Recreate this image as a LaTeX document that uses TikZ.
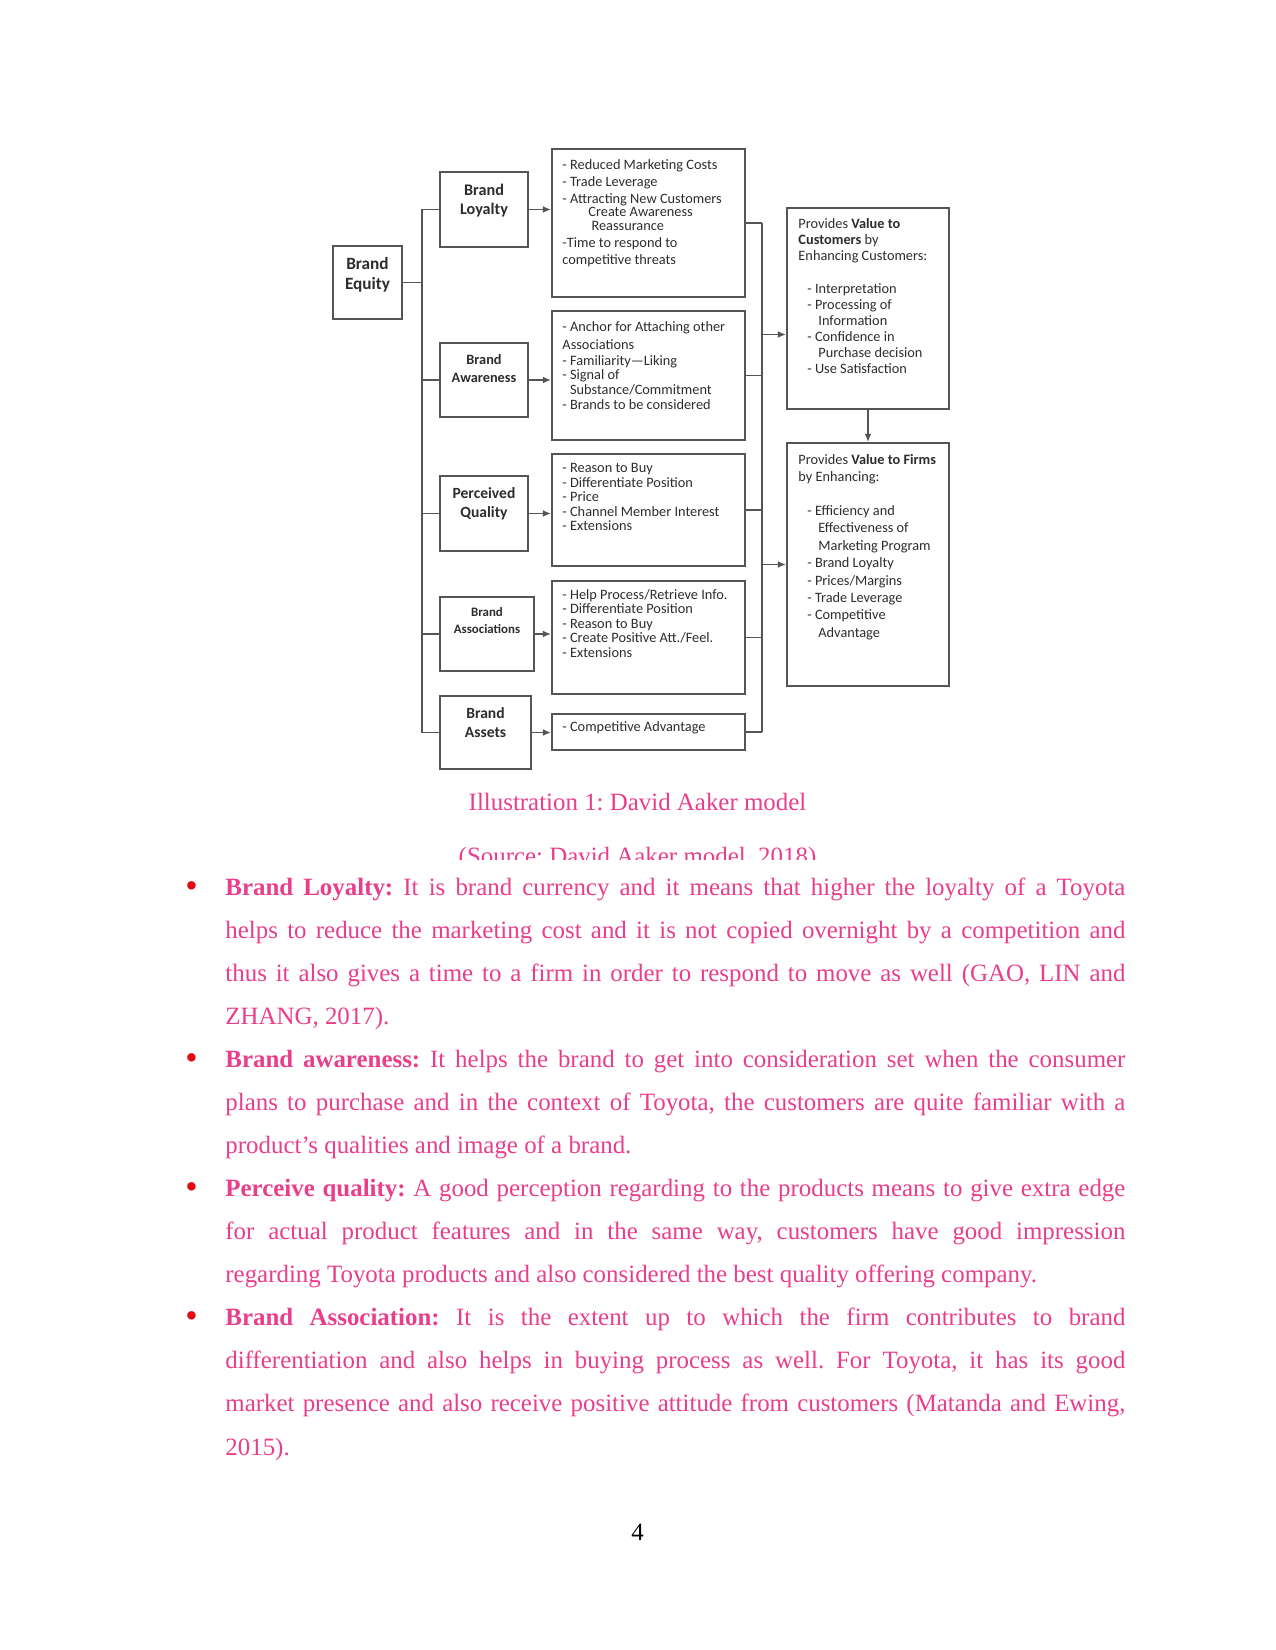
\documentclass[tikz,border=0pt]{standalone}
\usepackage{fontspec}
\setmainfont{Liberation Serif}
\newfontfamily\diafont{Carlito}
\usepackage{tikz}
\usepackage{xcolor}
\usetikzlibrary{positioning}
\usetikzlibrary{arrows.meta}
\usetikzlibrary{calc}
\definecolor{textpink}{RGB}{232,62,140}
\definecolor{bulletred}{RGB}{228,10,20}
\definecolor{boxgray}{RGB}{85,85,85}
\definecolor{inkgray}{RGB}{45,45,45}
\newlength{\pxu}
\setlength{\pxu}{0.4818pt}
\frenchspacing

\begin{document}
\begin{tikzpicture}[
    x=\pxu, y=-\pxu,
    %% ── Node styles ─────────────────────────────────────────────
    box/.style 2 args={draw=boxgray, line width=0.9pt, fill=white,
                       minimum width=#1*\pxu, minimum height=#2*\pxu,
                       inner sep=0pt},
    ttl/.style 2 args={align=center, inner sep=0pt, text=inkgray,
                       font=\diafont\bfseries\fontsize{#1}{#2}\selectfont},
    lst/.style ={anchor=north west, align=left, inner sep=0pt, text=inkgray,
                 font=\diafont\fontsize{6.9}{#1}\selectfont},
    body/.style={anchor=base west, text width=6in, align=justify, inner sep=0pt,
                 text=textpink, font=\fontsize{12}{20.76}\selectfont},
    bul/.style ={anchor=base, inner sep=0pt, text=bulletred, font=\fontsize{17}{18}\selectfont},
    captxt/.style={anchor=base, inner sep=0pt, text=textpink, font=\fontsize{12}{14}\selectfont},
    conn/.style={draw=boxgray, line width=0.85pt},
    arr/.style ={conn, -{Latex[length=4pt, width=3.4pt]}}
]
    \fill[white] (0,0) rectangle (1275,1650);
    \useasboundingbox (0,0) rectangle (1275,1650);

    %% ── Left column ─────────────────────────────────────────────
    \node[box={69}{73}] (equity)  at (367.5, 282.5) {};
    \node[box={88}{75}] (loyalty) at (484,   209.5) {};
    \node[box={88}{74}] (aware)   at (484,   380  ) {};
    \node[box={88}{75}] (quality) at (484,   513.5) {};
    \node[box={94}{74}] (assoc)   at (487,   634  ) {};
    \node[box={91}{73}] (assets)  at (485.5, 732.5) {};

    \node[ttl={8.3}{9.6}] (equityttl)  at ([shift={(0,-7.5)}]equity.center)  {Brand\\Equity};
    \node[ttl={7.8}{9.2}] (loyaltyttl) at ([shift={(0,-8.5)}]loyalty.center) {Brand\\Loyalty};
    \node[ttl={6.9}{8.7}] (awarettl)   at ([shift={(0,-11.5)}]aware.center)   {Brand\\Awareness};
    \node[ttl={7.5}{9.2}] (qualityttl) at ([shift={(0,-9.5)}]quality.center) {Perceived\\Quality};
    \node[ttl={6.2}{8.2}] (assocttl)   at ([shift={(0,-13)}]assoc.center)     {Brand\\Associations};
    \node[ttl={7.5}{9.2}] (assetsttl)  at ([shift={(0,-9.5)}]assets.center)  {Brand\\Assets};

    %% ── Middle column ───────────────────────────────────────────
    \node[box={193}{148}] (loyben) at (648.5, 223  ) {};
    \node[box={193}{129}] (awaben) at (648.5, 375.5) {};
    \node[box={193}{112}] (quaben) at (648.5, 510  ) {};
    \node[box={193}{113}] (assben) at (648.5, 637.5) {};
    \node[box={193}{36}]  (astben) at (648.5, 732  ) {};

    \node[lst={8.2}] (loybentxt) at ([shift={(11,11)}]loyben.north west)
        {- Reduced Marketing Costs\\
         - Trade Leverage\\
         - Attracting New Customers\\[-1.7pt]
         \hspace*{12.5pt}Create Awareness\\[-1.7pt]
         \hspace*{14pt}Reassurance\\
         -Time to respond to\\
         competitive threats};
    \node[lst={7}] (awabentxt) at ([shift={(11,11)}]awaben.north west)
        {- Anchor for Attaching other\\[1.7pt]
         Associations\\[0.7pt]
         - Familiarity\textemdash Liking\\
         - Signal of\\
         \phantom{- }Substance/Commitment\\
         - Brands to be considered};
    \node[lst={7}] (quabentxt) at ([shift={(11,10)}]quaben.north west)
        {- Reason to Buy\\
         - Differentiate Position\\
         - Price\\
         - Channel Member Interest\\
         - Extensions};
    \node[lst={7}] (assbentxt) at ([shift={(11,8.6)}]assben.north west)
        {- Help Process/Retrieve Info.\\
         - Differentiate Position\\
         - Reason to Buy\\
         - Create Positive Att./Feel.\\
         - Extensions};
    \node[lst={7}] (astbentxt) at ([shift={(11,8)}]astben.north west)
        {- Competitive Advantage};

    %% ── Right column ────────────────────────────────────────────
    \node[box={162}{201}] (custval) at (868, 308.5) {};
    \node[box={162}{243}] (firmval) at (868, 564.5) {};

    \node[lst={7.7}] (custvaltxt) at ([shift={(12,11)}]custval.north west)
        {Provides \textbf{Value to}\\
         \textbf{Customers} by\\
         Enhancing Customers:\\[8.4pt]
         \hspace*{4.3pt}- Interpretation\\
         \hspace*{4.3pt}- Processing of\\
         \hspace*{9.6pt}Information\\
         \hspace*{4.3pt}- Confidence in\\
         \hspace*{9.6pt}Purchase decision\\
         \hspace*{4.3pt}- Use Satisfaction};
    \node[lst={8.4}] (firmvaltxt) at ([shift={(12,12)}]firmval.north west)
        {Provides \textbf{Value to Firms}\\
         by Enhancing:\\[7.7pt]
         \hspace*{4.3pt}- Efficiency and\\
         \hspace*{9.6pt}Effectiveness of\\
         \hspace*{9.6pt}Marketing Program\\
         \hspace*{4.3pt}- Brand Loyalty\\
         \hspace*{4.3pt}- Prices/Margins\\
         \hspace*{4.3pt}- Trade Leverage\\
         \hspace*{4.3pt}- Competitive\\
         \hspace*{9.6pt}Advantage};

    %% ── Connectors ──────────────────────────────────────────────
    \coordinate (lbus)   at (422, 0);
    \coordinate (rbus)   at (762, 0);
    \coordinate (custin) at ([shift={(0,26)}]custval.west);

    \draw[conn] (equity.east) -- (equity.east -| lbus);
    \draw[conn] (lbus |- loyalty.west) -- (lbus |- assets.west);
    \foreach \a/\b in {loyalty/loyben, aware/awaben, quality/quaben, assoc/assben, assets/astben} {
        \draw[conn] (lbus |- \a.west) -- (\a.west);
        \draw[arr]  (\a.east) -- (\a.east -| \b.west);
        \draw[conn] (\b.east) -- (\b.east -| rbus);
    }
    \draw[conn] (rbus |- loyben.east) -- (rbus |- astben.east);
    \draw[arr]  (rbus |- custin) -- (custin);
    \draw[arr]  (rbus |- firmval.west) -- (firmval.west);
    \draw[arr]  (custval.south) -- (firmval.north);

    %% ── Caption ─────────────────────────────────────────────────
    \node[captxt] (capline) at (637.5, 810) {Illustration 1: David Aaker model};
    \begin{scope}
        \clip (0, 838) rectangle (1275, 859);
        \node[captxt] (srcline) at (637.5, 864) {(Source: David Aaker model, 2018)};
    \end{scope}

    %% ── Bullet text ─────────────────────────────────────────────
    \node[bul] (bul1) at (191.5, 897)    {\textbullet};
    \node[bul] (bul2) at (191.5, 1069.3) {\textbullet};
    \node[bul] (bul3) at (191.5, 1198.6) {\textbullet};
    \node[bul] (bul4) at (191.5, 1327.8) {\textbullet};

    \node[body] (para1) at (225, 895)
        {\textbf{Brand Loyalty:} It is brand currency and it means that higher the loyalty of a Toyota\linebreak
         helps to reduce the marketing cost and it is not copied overnight by a competition and\linebreak
         thus it also gives a time to a firm in order to respond to move as well (GAO, LIN and\linebreak
         ZHANG, 2017).};
    \node[body] (para2) at (225, 1067.3)
        {\textbf{Brand awareness:} It helps the brand to get into consideration set when the consumer\linebreak
         plans to purchase and in the context of Toyota, the customers are quite familiar with a\linebreak
         product's qualities and image of a brand.};
    \node[body] (para3) at (225, 1196.6)
        {\textbf{Perceive quality:} A good perception regarding to the products means to give extra edge\linebreak
         for actual product features and in the same way, customers have good impression\linebreak
         regarding Toyota products and also considered the best quality offering company.};
    \node[body] (para4) at (225, 1325.8)
        {\textbf{Brand Association:} It is the extent up to which the firm contributes to brand\linebreak
         differentiation and also helps in buying process as well. For Toyota, it has its good\linebreak
         market presence and also receive positive attitude from customers (Matanda and Ewing,\linebreak
         2015).};

    \node[captxt, text=black] (pagenum) at (637.5, 1540) {4};

\end{tikzpicture}
\end{document}
